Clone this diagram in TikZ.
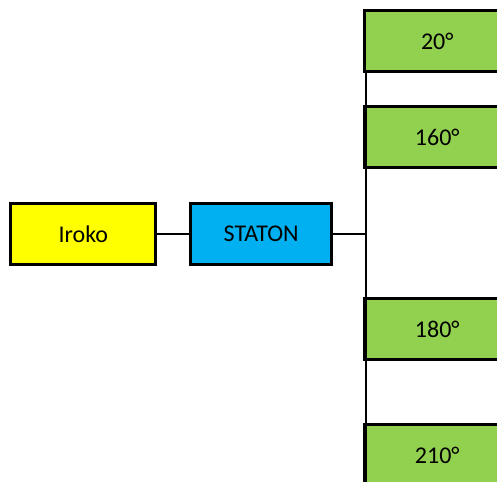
\documentclass[tikz,border=0pt]{standalone}
\usepackage{fontspec}
\setmainfont{Carlito}
\definecolor{yel}{HTML}{FFFF00}
\definecolor{blu}{HTML}{00B0F0}
\definecolor{grn}{HTML}{92D050}
\begin{document}
\begin{tikzpicture}[x=1pt,y=1pt,
  box/.style={draw=black,line width=3pt,minimum width=145pt,minimum height=61pt,inner sep=0pt,font=\fontsize{24}{28}\selectfont,text=black},
  conn/.style={draw=black,line width=1.6pt}]
\useasboundingbox (0,0) rectangle (497,481);
\clip (0,0) rectangle (497,481);
\node[box,fill=yel] (iroko) at (83.3,247.2) {Iroko};
\node[box,fill=blu,minimum width=141pt] (staton) at (261.2,247.2) {STATON};
\node[box,fill=grn] (a20) at (437.3,440) {20°};
\node[box,fill=grn] (a160) at (437.3,344) {160°};
\node[box,fill=grn] (a180) at (437.3,152) {180°};
\node[box,fill=grn] (a210) at (437.3,26) {210°};
\coordinate (trunktop) at (366,408);
\coordinate (trunkbot) at (366,-5);
\coordinate (junc) at (366,247.2);
\draw[conn] (iroko.east) -- (staton.west);
\draw[conn] (staton.east) -- (junc);
\draw[conn] (trunktop) -- (trunkbot);
\end{tikzpicture}
\end{document}
